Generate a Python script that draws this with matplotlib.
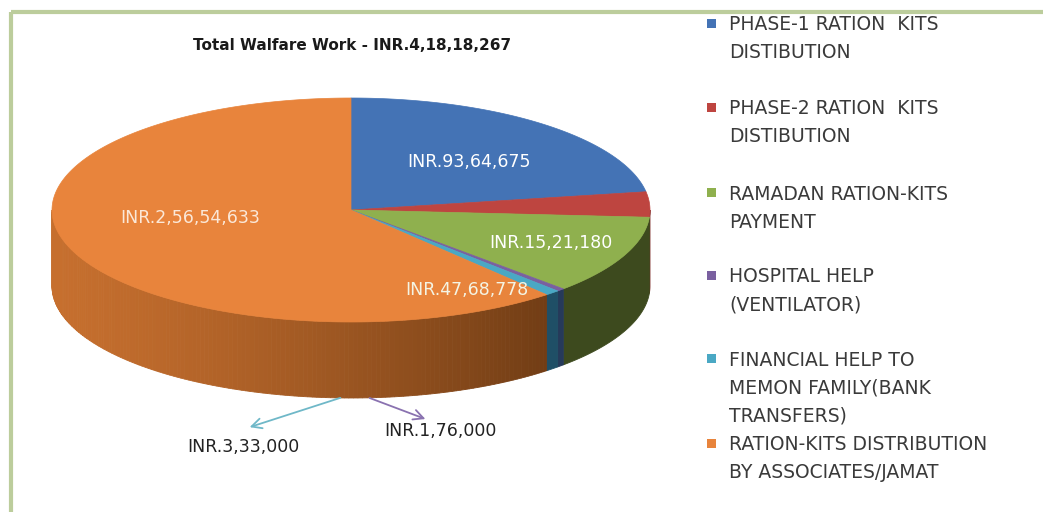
import numpy as np
import matplotlib.pyplot as plt
from matplotlib.patches import Polygon, Rectangle
from matplotlib.colors import to_rgb

categories = [
    "PHASE-1 RATION  KITS\nDISTIBUTION",
    "PHASE-2 RATION  KITS\nDISTIBUTION",
    "RAMADAN RATION-KITS\nPAYMENT",
    "HOSPITAL HELP\n(VENTILATOR)",
    "FINANCIAL HELP TO\nMEMON FAMILY(BANK\nTRANSFERS)",
    "RATION-KITS DISTRIBUTION\nBY ASSOCIATES/JAMAT",
]
values = [9364675, 1521180, 4768778, 176000, 333000, 25654633]
title = "Total Walfare Work - INR.4,18,18,267"

top_colors = ["#4473b5", "#be4540", "#8fb04e", "#7a60a0", "#4aa8c4", "#e8843c"]
side_colors = ["#2c4d7a", "#7d2b28", "#3d4a1e", "#263a5a", "#1f4f66", None]
label_colors = ["white", "white", "#f4f4e4", "#222222", "#222222", "#fbe8d8"]


def inr(v):
    s = str(v)
    head, tail = s[:-3], s[-3:]
    groups = []
    while len(head) > 2:
        groups.insert(0, head[-2:])
        head = head[:-2]
    if head:
        groups.insert(0, head)
    return "INR." + ",".join(groups + [tail])


W, H = 1043, 512
fig = plt.figure(figsize=(W / 100, H / 100), dpi=100)
ax = fig.add_axes([0, 0, 1, 1])
ax.set_xlim(0, W)
ax.set_ylim(H, 0)
ax.axis("off")

# chart frame
ax.add_patch(Rectangle((11, 12), W + 20, H + 20, fill=False,
                       edgecolor="#bccd9c", linewidth=3))

cx, cy, a, b, depth = 351, 210, 299, 112, 76


def pt(theta, dy=0):
    return cx + a * np.cos(theta), cy - b * np.sin(theta) + dy


total = sum(values)
fracs = np.array(values) / total
starts = np.pi / 2 - 2 * np.pi * np.concatenate([[0], np.cumsum(fracs)[:-1]])
ends = starts - 2 * np.pi * fracs

orange_dark = np.array(to_rgb("#5a2f0e"))
orange_light = np.array(to_rgb("#c66f2e"))

# side walls (only the front half, angles in [-pi, 0], is visible)
for i, (t0, t1) in enumerate(zip(starts, ends)):
    s0, s1 = min(t0, 0), max(t1, -np.pi)
    if s0 <= s1:
        continue
    if side_colors[i] is None:
        steps = np.linspace(s0, s1, 150)
        for u0, u1 in zip(steps[:-1], steps[1:]):
            f = (np.cos((u0 + u1) / 2) + 1) / 2
            g = f ** 1.3
            col = orange_light * (1 - g) + orange_dark * g
            th = np.linspace(u0, u1, 4)
            xs, ys = pt(th)
            xb, yb = pt(th[::-1], depth)
            ax.add_patch(Polygon(np.column_stack([np.r_[xs, xb], np.r_[ys, yb]]),
                                 closed=True, facecolor=col, edgecolor=col, lw=0.6))
    else:
        th = np.linspace(s0, s1, 60)
        xs, ys = pt(th)
        xb, yb = pt(th[::-1], depth)
        ax.add_patch(Polygon(np.column_stack([np.r_[xs, xb], np.r_[ys, yb]]),
                             closed=True, facecolor=side_colors[i],
                             edgecolor=side_colors[i], lw=0.6))

# top faces
for i, (t0, t1) in enumerate(zip(starts, ends)):
    th = np.linspace(t0, t1, 200)
    xs, ys = pt(th)
    poly = np.column_stack([np.r_[cx, xs], np.r_[cy, ys]])
    ax.add_patch(Polygon(poly, closed=True, facecolor=top_colors[i],
                         edgecolor=top_colors[i], lw=0.5))

ax.text(352, 45, title, ha="center", va="center", fontsize=11,
        fontweight="bold", color="#1a1a1a", family="DejaVu Sans")

# data labels
label_pos = [(469, 162), (551, 243), (467, 290), (440, 431), (243, 447), (190, 218)]
for i, (x, y) in enumerate(label_pos):
    ax.text(x, y, inr(values[i]), ha="center", va="center", fontsize=12.5,
            color=label_colors[i], family="DejaVu Sans")

ax.annotate("", xy=(247, 428), xytext=(343, 397),
            arrowprops=dict(arrowstyle="->", color="#6fb8c8", lw=1.3,
                            mutation_scale=18))
ax.annotate("", xy=(428, 420), xytext=(367, 397),
            arrowprops=dict(arrowstyle="->", color="#8a72b0", lw=1.3,
                            mutation_scale=18))

# legend
legend_y = [23, 107, 192, 275, 358, 443]
for i, y in enumerate(legend_y):
    ax.add_patch(Rectangle((707, y - 4.5), 9, 9, facecolor=top_colors[i], edgecolor="none"))
    for k, line in enumerate(categories[i].split("\n")):
        ax.text(729, y + 28 * k, line, ha="left", va="center_baseline", fontsize=13.5,
                color="#3a3a3a", family="DejaVu Sans")

fig.savefig("out.png", dpi=100)
